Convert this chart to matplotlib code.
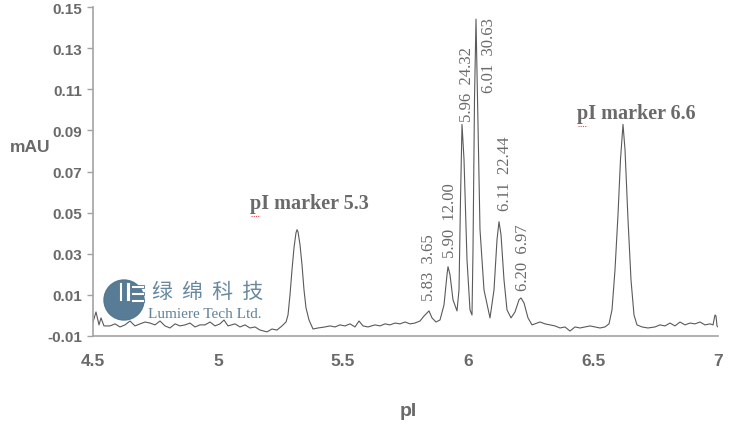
import numpy as np
import matplotlib
matplotlib.use("Agg")
import matplotlib.pyplot as plt
from matplotlib.patches import Circle, Rectangle

# trace (pI, mAU)
pi_vals = [4.500, 4.512, 4.524, 4.532, 4.544, 4.568, 4.588, 4.608, 4.628, 4.648,
           4.668, 4.688, 4.708, 4.728, 4.748, 4.768, 4.788, 4.808, 4.828, 4.848,
           4.868, 4.888, 4.908, 4.928, 4.948, 4.968, 4.988, 5.008, 5.024, 5.040,
           5.068, 5.088, 5.108, 5.128, 5.148, 5.168, 5.196, 5.216, 5.236, 5.256,
           5.272, 5.280, 5.288, 5.296, 5.304, 5.312, 5.316, 5.320, 5.328, 5.336,
           5.344, 5.352, 5.364, 5.380, 5.400, 5.428, 5.448, 5.468, 5.488, 5.508,
           5.528, 5.548, 5.564, 5.580, 5.600, 5.628, 5.648, 5.668, 5.688, 5.708,
           5.728, 5.748, 5.768, 5.788, 5.808, 5.824, 5.844, 5.856, 5.872, 5.888,
           5.904, 5.916, 5.920, 5.928, 5.940, 5.956, 5.964, 5.970, 5.976, 5.984,
           5.996, 6.008, 6.016, 6.020, 6.026, 6.032, 6.038, 6.048, 6.064, 6.088,
           6.104, 6.116, 6.124, 6.132, 6.144, 6.156, 6.172, 6.188, 6.204, 6.212,
           6.224, 6.240, 6.256, 6.288, 6.308, 6.328, 6.348, 6.368, 6.388, 6.408,
           6.428, 6.448, 6.468, 6.488, 6.508, 6.528, 6.548, 6.564, 6.576, 6.588,
           6.600, 6.610, 6.620, 6.628, 6.640, 6.652, 6.664, 6.676, 6.696, 6.720,
           6.748, 6.768, 6.788, 6.808, 6.828, 6.848, 6.868, 6.888, 6.908, 6.928,
           6.948, 6.968, 6.980, 6.988, 6.992, 6.996, 7.000]
mau_vals = [-0.0032, 0.0017, -0.0046, -0.0012, -0.0051, -0.0051, -0.0041, -0.0056, -0.0046, -0.0027,
            -0.0051, -0.0041, -0.0032, -0.0037, -0.0046, -0.0027, -0.0051, -0.0061, -0.0041, -0.0051,
            -0.0046, -0.0037, -0.0056, -0.0046, -0.0046, -0.0032, -0.0051, -0.0041, -0.0022, -0.0051,
            -0.0041, -0.0056, -0.0046, -0.0061, -0.0056, -0.0071, -0.0080, -0.0066, -0.0071, -0.0051,
            -0.0032, 0.0002, 0.0100, 0.0222, 0.0329, 0.0402, 0.0417, 0.0407, 0.0344, 0.0246,
            0.0124, 0.0037, -0.0022, -0.0066, -0.0061, -0.0056, -0.0051, -0.0056, -0.0046, -0.0051,
            -0.0041, -0.0056, -0.0027, -0.0051, -0.0056, -0.0046, -0.0051, -0.0041, -0.0046, -0.0037,
            -0.0041, -0.0032, -0.0041, -0.0037, -0.0027, -0.0003, 0.0022, -0.0012, -0.0032, -0.0022,
            0.0051, 0.0198, 0.0237, 0.0198, 0.0076, 0.0022, 0.0124, 0.0563, 0.0929, 0.0759,
            0.0271, 0.0027, 0.0002, 0.0320, 0.1051, 0.1441, 0.1051, 0.0417, 0.0124, -0.0012,
            0.0124, 0.0368, 0.0456, 0.0393, 0.0173, 0.0027, -0.0012, 0.0017, 0.0076, 0.0085,
            0.0061, -0.0012, -0.0046, -0.0032, -0.0041, -0.0046, -0.0051, -0.0061, -0.0056, -0.0076,
            -0.0056, -0.0061, -0.0056, -0.0051, -0.0056, -0.0061, -0.0056, -0.0041, 0.0027, 0.0222,
            0.0490, 0.0759, 0.0929, 0.0807, 0.0466, 0.0173, 0.0002, -0.0046, -0.0056, -0.0061,
            -0.0056, -0.0046, -0.0051, -0.0037, -0.0051, -0.0032, -0.0046, -0.0037, -0.0041, -0.0032,
            -0.0046, -0.0041, -0.0046, 0.0002, -0.0003, -0.0051, -0.0056]

# peak labels (pI, area %) and where they sit
peak_labels = ["5.83  3.65", "5.90  12.00", "5.96  24.32", "6.01  30.63", "6.11  22.44", "6.20  6.97"]
peak_label_x = [5.844, 5.928, 5.996, 6.084, 6.148, 6.220]
peak_label_y = [0.0076, 0.0285, 0.0944, 0.1085, 0.0515, 0.0124]

marker_labels = ["pI marker 5.3", "pI marker 6.6"]
marker_x = [5.128, 6.436]
marker_y = [0.0545, 0.0985]

x_ticks = [4.5, 5, 5.5, 6, 6.5, 7]
x_ticklabels = ["4.5", "5", "5.5", "6", "6.5", "7"]
y_ticks = [-0.01, 0.01, 0.03, 0.05, 0.07, 0.09, 0.11, 0.13, 0.15]
y_ticklabels = ["-0.01", "0.01", "0.03", "0.05", "0.07", "0.09", "0.11", "0.13", "0.15"]

grey = "#6a6a6a"
axis_grey = "#a3a3a3"
logo_blue = "#4f7590"

fig = plt.figure(figsize=(7.37, 4.27), dpi=100)
ax = fig.add_axes([93 / 737, 90 / 427, 625 / 737, 329 / 427])

ax.plot(pi_vals, mau_vals, color="#5a5a5a", lw=0.8)

ax.set_xlim(4.5, 7)
ax.set_ylim(-0.01, 0.15)
ax.set_xticks(x_ticks)
ax.set_xticklabels(x_ticklabels)
ax.set_yticks(y_ticks)
ax.set_yticklabels(y_ticklabels)

for s in ["top", "right"]:
    ax.spines[s].set_visible(False)
for s in ["left", "bottom"]:
    ax.spines[s].set_color(axis_grey)
    ax.spines[s].set_linewidth(1.2)

ax.tick_params(axis="y", direction="out", length=4, width=1, color=axis_grey,
               labelcolor=grey, pad=4)
ax.tick_params(axis="x", length=0, labelcolor=grey, pad=12)
for lab in ax.get_yticklabels():
    lab.set_fontweight("bold")
    lab.set_fontsize(11)
    lab.set_family("Liberation Sans")
for lab in ax.get_xticklabels():
    lab.set_fontweight("bold")
    lab.set_fontsize(12.5)
    lab.set_family("Liberation Sans")

# peak annotations
for txt, x, y in zip(peak_labels, peak_label_x, peak_label_y):
    ax.text(x, y, txt, rotation=90, ha="center", va="bottom", fontsize=12,
            family="Liberation Serif", color=grey)

for txt, x, y in zip(marker_labels, marker_x, marker_y):
    ax.text(x, y, txt, ha="left", va="center", fontsize=14.5, fontweight="bold",
            family="Liberation Serif", color=grey)
    # red spell-check squiggle under "pI"
    ax.plot([x + 0.002, x + 0.040], [y - 0.0062, y - 0.0062], color="#e05050",
            lw=0.8, ls=(0, (1, 1)))

fig.text(30 / 737, (427 - 148) / 427, "mAU", ha="center", va="center",
         fontsize=12.5, fontweight="bold", color=grey, family="Liberation Sans")
fig.text(408 / 737, (427 - 412) / 427, "pI", ha="center", va="center",
         fontsize=14, fontweight="bold", color=grey, family="Liberation Sans")

# watermark logo
tr = fig.dpi_scale_trans
def px(x, y):
    return (x / 100, (427 - y) / 100)

fig.add_artist(Circle(px(124, 301), 0.20, transform=tr, color=logo_blue, alpha=0.95))
for bx in [119, 126]:
    fig.add_artist(Rectangle(px(bx, 302), 0.035, 0.19, transform=tr,
                             facecolor="white", edgecolor=logo_blue, lw=0.6))
for by in [289, 296, 303]:
    fig.add_artist(Rectangle(px(131, by), 0.13, 0.035, transform=tr,
                             facecolor="white", edgecolor=logo_blue, lw=0.6))
fig.text(152 / 737, (427 - 292) / 427, "绿  绵  科  技", ha="left", va="center",
         fontsize=15, fontweight="light", color=logo_blue,
         family=["Noto Sans CJK SC", "DejaVu Sans"], alpha=0.85)
fig.text(148 / 737, (427 - 315) / 427, "Lumiere Tech Ltd.", ha="left", va="center",
         fontsize=11, color=logo_blue, family="Liberation Serif", alpha=0.9)

fig.savefig("out.png", dpi=100)
